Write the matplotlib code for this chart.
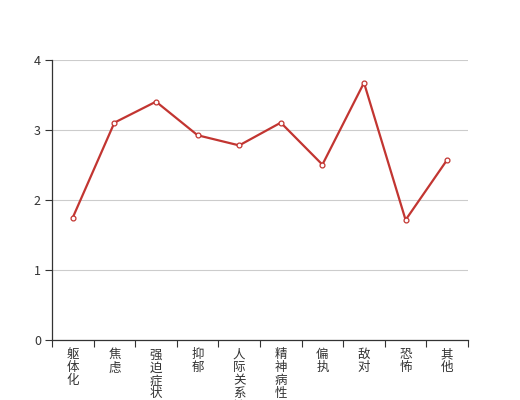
import matplotlib
matplotlib.use('Agg')
import matplotlib.pyplot as plt
import numpy as np

plt.rcParams['font.family'] = ['Noto Sans CJK SC', 'DejaVu Sans']

categories = ['躯体化', '焦虑', '强迫症状', '抑郁', '人际关系敏感', '精神病性', '偏执', '敌对', '恐怖', '其他']
values = [1.75, 3.105, 3.405, 2.925, 2.78, 3.105, 2.505, 3.675, 1.715, 2.575]

fig = plt.figure(figsize=(5.2, 4.0), dpi=100)
ax = fig.add_axes([0.1, 0.15, 0.8, 0.7])

x = np.arange(len(categories))
ax.plot(x, values, color='#c23531', lw=1.6, marker='o', ms=3.5,
        markerfacecolor='white', markeredgecolor='#c23531', markeredgewidth=0.9, zorder=3)

ax.set_xlim(-0.5, len(categories) - 0.5)
ax.set_ylim(0, 4)
ax.set_yticks([0, 1, 2, 3, 4])
ax.grid(axis='y', color='#cccccc', lw=0.8)
ax.set_axisbelow(True)

# ticks on the category boundaries, labels in the middle, one char per line
ax.set_xticks(np.arange(-0.5, len(categories)), minor=False)
ax.set_xticklabels([])
ax.set_xticks(x, minor=True)
ax.set_xticklabels(['\n'.join(c) for c in categories], minor=True, va='top',
                   fontsize=9, color='#333333', linespacing=1.0)
ax.tick_params(axis='x', which='minor', length=0, pad=6)
ax.tick_params(axis='x', which='major', length=5, width=0.8, color='#333333', direction='out')
ax.tick_params(axis='y', length=5, width=0.8, color='#333333', labelsize=9, labelcolor='#333333', pad=3)

for s in ['top', 'right']:
    ax.spines[s].set_visible(False)
for s in ['left', 'bottom']:
    ax.spines[s].set_color('#333333')
    ax.spines[s].set_linewidth(0.9)

fig.savefig('out.png', dpi=100)
